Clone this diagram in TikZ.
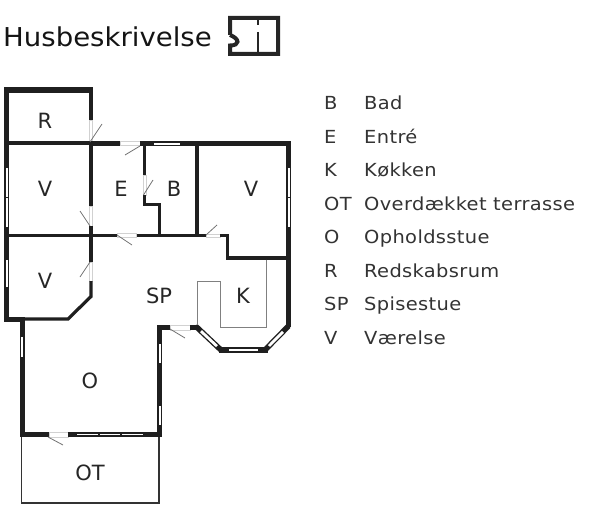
\documentclass[tikz,border=0pt]{standalone}
\usepackage{fontspec}
\setmainfont{DejaVu Sans}
\newfontfamily\legfont[FakeStretch=1.08,LetterSpace=2]{DejaVu Sans}
\newfontfamily\titlefont[FakeStretch=1.06]{DejaVu Sans}
\tikzset{
  wall/.style={fill=black!88},
  thinwall/.style={draw=black!88,line width=3.2pt,line cap=butt,line join=miter},
  win/.style={fill=white,draw=black!88,line width=0.7pt},
  diagwin/.style={draw=black!88,line width=5.5pt,line cap=butt},
  diagglass/.style={draw=white,line width=2.8pt,line cap=butt},
  gap/.style={fill=white,draw=black!18,line width=0.6pt},
  swing/.style={draw=black!55,line width=0.8pt},
  counter/.style={draw=black!50,line width=1pt,line join=miter},
  terrace/.style={draw=black!80,line width=1.1pt},
  room/.style={font=\fontsize{21}{23}\selectfont,text=black!85,inner sep=0pt},
  legkey/.style={font=\legfont\fontsize{18}{20}\selectfont,text=black!80,anchor=base west,inner sep=0pt},
  title/.style={font=\titlefont\fontsize{26}{28}\selectfont,text=black!92,anchor=base west,inner sep=0pt},
  iconwall/.style={draw=black!85,line width=4pt,line join=miter},
}
\begin{document}
\begin{tikzpicture}[x=1pt,y=-1pt]
\useasboundingbox (0,0) rectangle (600,519);
% title
\node[title] (title) at (3,46.5) {Husbeskrivelse};
\draw[iconwall] (230,35) -- (230,18) -- (278,18) -- (278,54) -- (230,54) -- (230,45.5) .. controls (240,45.5) and (240,39) .. (230,35);
\draw[draw=black!85,line width=2.8pt] (258,18) -- (258,25.5) (258,32) -- (258,54);
% terrace
\draw[terrace] (21.7,437) -- (21.7,503) -- (159,503) -- (159,437);
% outer walls top-left
\fill[wall] (4,87) rectangle (93,93);
\fill[wall] (4,87) rectangle (9,322);
\fill[wall] (88.5,87) rectangle (93,120);
\fill[wall] (9,317) rectangle (25,322);
\fill[wall] (19.5,317) rectangle (24.5,437);
% left windows
\draw[win] (5,167) rectangle (8.5,197);
\draw[win] (5,197) rectangle (8.5,227);
\draw[win] (5,259) rectangle (8.5,287);
\draw[win] (20.3,336) rectangle (23.8,357);
% door gaps
\fill[gap] (89.5,120) rectangle (92.5,141);
\fill[gap] (120,141.5) rectangle (140,145.5);
\fill[gap] (89.5,206) rectangle (92,226);
\fill[gap] (117,233.5) rectangle (136.5,237);
\fill[gap] (143,175) rectangle (146,195);
\fill[gap] (206,234) rectangle (220,237);
\fill[gap] (89.5,262) rectangle (92,281);
\fill[gap] (170,325) rectangle (190,330);
\fill[gap] (49,432.5) rectangle (68,437);
% horizontal thick walls
\fill[wall] (88.5,141) rectangle (120,146);
\fill[wall] (140,141) rectangle (291,146);
\draw[win] (153,142.2) rectangle (180,145);
% interior thin walls
\draw[thinwall] (9,143) -- (89,143);
\draw[thinwall] (91,143) -- (91,206);
\draw[thinwall,line width=3.4pt] (9,235.5) -- (117,235.5);
\draw[thinwall,line width=3.4pt] (136.5,235.5) -- (206,235.5);
\draw[thinwall] (91,226) -- (91,262);
\draw[thinwall] (91,281) -- (91,296.5) -- (68,319) -- (24,319);
\draw[thinwall] (144.5,146) -- (144.5,175);
\draw[thinwall] (144.5,195) -- (144.5,204.5) -- (159.5,204.5) -- (159.5,235);
\draw[thinwall] (197,146) -- (197,235);
\draw[thinwall] (220,235.5) -- (227.5,235.5) -- (227.5,258) -- (286,258);
% right wall
\fill[wall] (286,141) rectangle (291,327);
\draw[win] (287,167) rectangle (290,197);
\draw[win] (287,197.5) rectangle (290,227);
% bay
\fill[wall] (190,324.5) rectangle (198,330);
\fill[wall] (157,324.5) rectangle (170,330);
\draw[diagwin] (195.5,326) -- (221,350);
\draw[diagwin] (288.5,326) -- (265,350);
\fill[wall] (219,347) rectangle (268,353);
\draw[win] (228,348.3) rectangle (258,351.7);
\draw[diagglass] (201,331.2) -- (217,346.2);
\draw[diagglass] (283,331.8) -- (269,346);
% SP/O east wall
\fill[wall] (157,324.5) rectangle (162,437);
\draw[win] (158,343) rectangle (161,363);
\draw[win] (158,405) rectangle (161,425);
% south wall
\fill[wall] (19.5,432) rectangle (49,437);
\fill[wall] (68,432) rectangle (162,437);
\draw[win] (76,433.3) rectangle (98,435.8);
\draw[win] (99,433.3) rectangle (120.5,435.8);
\draw[win] (121.5,433.3) rectangle (143,435.8);
% counters
\draw[counter] (266,259.5) -- (266,327) -- (220,327) -- (220,281) -- (197,281) -- (197,325);
% door swings
\draw[swing] (90,142) -- (102,124);
\draw[swing] (140,146) -- (125,155);
\draw[swing] (90,226) -- (80,211);
\draw[swing] (117,235) -- (132,245);
\draw[swing] (143.5,195) -- (153,180);
\draw[swing] (206,235) -- (217,225);
\draw[swing] (90,262) -- (80,277);
\draw[swing] (170,329) -- (185,338);
\draw[swing] (48,437) -- (63,445);
% room labels
\node[room] (r) at (45,121) {R};
\node[room] (v1) at (45,189) {V};
\node[room] (e) at (121,189) {E};
\node[room] (b) at (174,189) {B};
\node[room] (v2) at (251,189) {V};
\node[room] (v3) at (45,281) {V};
\node[room] (sp) at (159,296) {SP};
\node[room] (k) at (243,296) {K};
\node[room] (o) at (90,381) {O};
\node[room] (ot) at (90,473) {OT};
% legend
\node[legkey] (kb) at (324,110) {B};     \node[legkey] (tb) at (364,110) {Bad};
\node[legkey] (ke) at (324,143.4) {E};   \node[legkey] (te) at (364,143.4) {Entré};
\node[legkey] (kk) at (324,176.9) {K};   \node[legkey] (tk) at (364,176.9) {Køkken};
\node[legkey] (kt) at (324,210.3) {OT};  \node[legkey] (tt) at (364,210.3) {Overdækket terrasse};
\node[legkey] (ko) at (324,243.7) {O};   \node[legkey] (to) at (364,243.7) {Opholdsstue};
\node[legkey] (kr) at (324,277.1) {R};   \node[legkey] (tr) at (364,277.1) {Redskabsrum};
\node[legkey] (ks) at (324,310.6) {SP};  \node[legkey] (ts) at (364,310.6) {Spisestue};
\node[legkey] (kv) at (324,344) {V};     \node[legkey] (tv) at (364,344) {Værelse};
\end{tikzpicture}
\end{document}
